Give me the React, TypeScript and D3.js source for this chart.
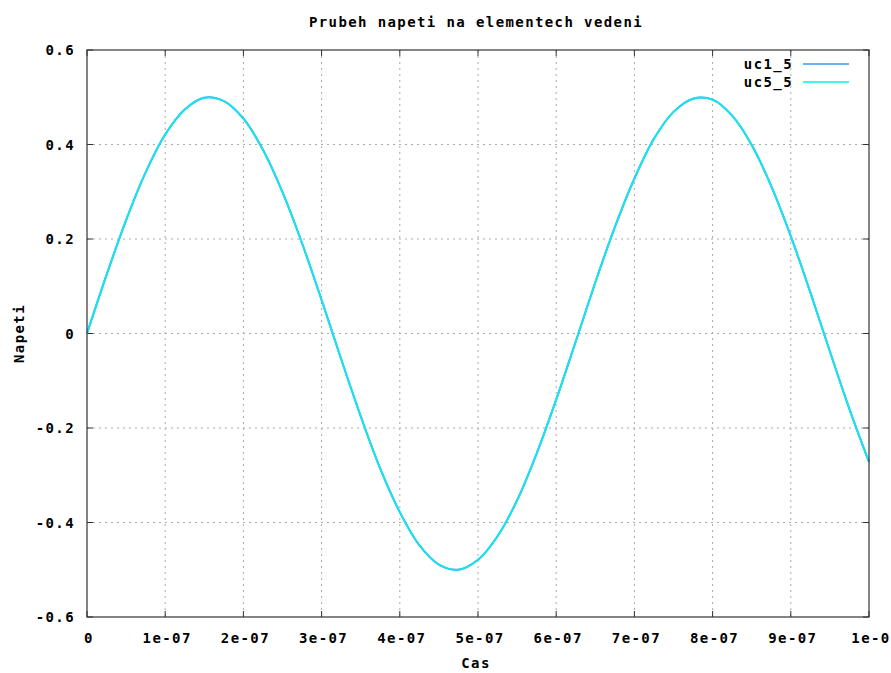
import React from "react";
import * as d3 from "d3";

const title = "Prubeh napeti na elementech vedeni";
const xLabel = "Cas";
const yLabel = "Napeti";
const seriesNames = ["uc1_5", "uc5_5"];
const seriesColors = ["#3a98f0", "#12e8ec"];

// time in seconds
const times = [
  0, 0.25e-7, 0.5e-7, 0.75e-7, 1e-7, 1.25e-7, 1.5e-7, 1.75e-7, 2e-7, 2.25e-7,
  2.5e-7, 2.75e-7, 3e-7, 3.25e-7, 3.5e-7, 3.75e-7, 4e-7, 4.25e-7, 4.5e-7, 4.75e-7,
  5e-7, 5.25e-7, 5.5e-7, 5.75e-7, 6e-7, 6.25e-7, 6.5e-7, 6.75e-7, 7e-7, 7.25e-7,
  7.5e-7, 7.75e-7, 8e-7, 8.25e-7, 8.5e-7, 8.75e-7, 9e-7, 9.25e-7, 9.5e-7, 9.75e-7, 1e-6,
];

const uc1_5 = [
  0, 0.124, 0.24, 0.341, 0.421, 0.474, 0.499, 0.492, 0.455, 0.389,
  0.299, 0.191, 0.071, -0.054, -0.175, -0.286, -0.378, -0.448, -0.489, -0.5,
  -0.479, -0.429, -0.353, -0.254, -0.14, -0.017, 0.108, 0.225, 0.328, 0.412,
  0.469, 0.497, 0.495, 0.461, 0.399, 0.312, 0.206, 0.087, -0.038, -0.16, -0.272,
];

const uc5_5 = [
  0, 0.124, 0.24, 0.341, 0.421, 0.474, 0.499, 0.492, 0.455, 0.389,
  0.299, 0.191, 0.071, -0.054, -0.175, -0.286, -0.378, -0.448, -0.489, -0.5,
  -0.479, -0.429, -0.353, -0.254, -0.14, -0.017, 0.108, 0.225, 0.328, 0.412,
  0.469, 0.497, 0.495, 0.461, 0.399, 0.312, 0.206, 0.087, -0.038, -0.16, -0.272,
];

const xTicks = [0, 1e-7, 2e-7, 3e-7, 4e-7, 5e-7, 6e-7, 7e-7, 8e-7, 9e-7, 1e-6];
const xTickLabels = ["0", "1e-07", "2e-07", "3e-07", "4e-07", "5e-07", "6e-07", "7e-07", "8e-07", "9e-07", "1e-0"];
const yTicks = [-0.6, -0.4, -0.2, 0, 0.2, 0.4, 0.6];
const yTickLabels = ["-0.6", "-0.4", "-0.2", "0", "0.2", "0.4", "0.6"];

const W = 891;
const H = 673;
const left = 87;
const right = 869;
const top = 50;
const bottom = 617;

const font = "'DejaVu Sans Mono', 'Liberation Mono', monospace";

export default function App() {
  const x = d3.scaleLinear().domain([0, 1e-6]).range([left, right]);
  const y = d3.scaleLinear().domain([-0.6, 0.6]).range([bottom, top]);
  const line = d3
    .line<number>()
    .x((_, i) => x(times[i]))
    .y((d) => y(d))
    .curve(d3.curveCatmullRom.alpha(0.5));
  const series = [uc1_5, uc5_5];
  const textStyle: React.CSSProperties = {
    fontFamily: font,
    fontWeight: "bold",
    fontSize: 14,
    letterSpacing: 1.4,
    fill: "#000",
  };
  return (
    <svg
      width={W}
      height={H}
      style={{ position: "absolute", left: 0, top: 0, background: "#fff" }}
    >
      <rect x={0} y={0} width={W} height={H} fill="#fff" />
      {/* grid */}
      {xTicks.slice(1, -1).map((t, i) => (
        <line key={"gx" + i} x1={x(t)} x2={x(t)} y1={top} y2={bottom} stroke="#aaa" strokeWidth={1} strokeDasharray="2,4" />
      ))}
      {yTicks.slice(1, -1).map((t, i) => (
        <line key={"gy" + i} x1={left} x2={right} y1={y(t)} y2={y(t)} stroke="#aaa" strokeWidth={1} strokeDasharray="2,4" />
      ))}
      {/* ticks */}
      {xTicks.map((t, i) => (
        <g key={"tx" + i}>
          <line x1={x(t)} x2={x(t)} y1={bottom} y2={bottom - 6} stroke="#333" />
          <line x1={x(t)} x2={x(t)} y1={top} y2={top + 6} stroke="#333" />
          <text x={x(t) + 2} y={643} textAnchor="middle" style={textStyle}>
            {xTickLabels[i]}
          </text>
        </g>
      ))}
      {yTicks.map((t, i) => (
        <g key={"ty" + i}>
          <line x1={left} x2={left + 6} y1={y(t)} y2={y(t)} stroke="#333" />
          <line x1={right} x2={right - 6} y1={y(t)} y2={y(t)} stroke="#333" />
          <text x={75} y={y(t) + 5} textAnchor="end" style={textStyle}>
            {yTickLabels[i]}
          </text>
        </g>
      ))}
      {/* series */}
      {series.map((s, i) => (
        <path key={"s" + i} d={line(s) || ""} fill="none" stroke={seriesColors[i]} strokeWidth={i === 0 ? 2 : 1.8} />
      ))}
      {/* border */}
      <rect x={left} y={top} width={right - left} height={bottom - top} fill="none" stroke="#333" strokeWidth={1.2} />
      {/* legend */}
      {seriesNames.map((n, i) => (
        <g key={"lg" + i}>
          <text x={793} y={69 + i * 18} textAnchor="end" style={textStyle}>
            {n}
          </text>
          <line x1={803} x2={849} y1={64 + i * 18} y2={64 + i * 18} stroke={seriesColors[i]} strokeWidth={1.6} />
        </g>
      ))}
      {/* titles */}
      <text x={476} y={27} textAnchor="middle" style={textStyle}>
        {title}
      </text>
      <text x={476} y={668} textAnchor="middle" style={textStyle}>
        {xLabel}
      </text>
      <text
        transform={`translate(24, ${(top + bottom) / 2}) rotate(-90)`}
        textAnchor="middle"
        style={textStyle}
      >
        {yLabel}
      </text>
    </svg>
  );
}
